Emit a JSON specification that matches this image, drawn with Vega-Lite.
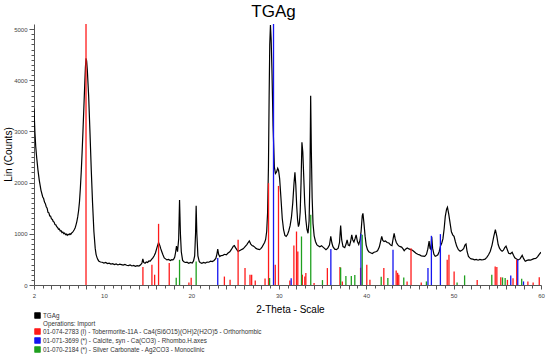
{
  "$schema": "https://vega.github.io/schema/vega-lite/v6.json",
  "width": 507,
  "height": 261,
  "autosize": {"type": "none"},
  "padding": {"left": 34, "top": 24, "right": 9, "bottom": 73},
  "background": "white",
  "title": {"text": "TGAg", "fontSize": 17, "font": "Liberation Sans", "fontWeight": "normal", "color": "black", "anchor": "middle", "offset": 3, "dx": -14},
  "config": {"view": {"stroke": null}, "font": "Liberation Sans"},
  "datasets": {
    "scan": [
      {"t":2.0,"c":3450},{"t":2.1,"c":3000},{"t":2.2,"c":2700},{"t":2.3,"c":2500},{"t":2.45,"c":2250},{"t":2.6,"c":2050},{"t":2.8,"c":1850},{"t":3.0,"c":1720},{"t":3.1,"c":1690},{"t":3.2,"c":1620},{"t":3.3,"c":1590},{"t":3.4,"c":1530},{"t":3.5,"c":1500},{"t":3.6,"c":1420},{"t":3.7,"c":1410},{"t":3.8,"c":1350},{"t":3.9,"c":1345},{"t":4.0,"c":1290},{"t":4.1,"c":1285},{"t":4.2,"c":1240},{"t":4.3,"c":1230},{"t":4.4,"c":1180},{"t":4.5,"c":1175},{"t":4.6,"c":1140},{"t":4.7,"c":1125},{"t":4.8,"c":1090},{"t":4.9,"c":1095},{"t":5.0,"c":1055},{"t":5.1,"c":1060},{"t":5.2,"c":1025},{"t":5.3,"c":1035},{"t":5.4,"c":1005},{"t":5.5,"c":1015},{"t":5.6,"c":985},{"t":5.7,"c":995},{"t":5.8,"c":970},{"t":5.9,"c":990},{"t":6.0,"c":980},{"t":6.1,"c":1000},{"t":6.2,"c":990},{"t":6.3,"c":1015},{"t":6.4,"c":1030},{"t":6.5,"c":1050},{"t":6.6,"c":1080},{"t":6.7,"c":1115},{"t":6.8,"c":1170},{"t":6.9,"c":1240},{"t":7.0,"c":1330},{"t":7.1,"c":1450},{"t":7.2,"c":1620},{"t":7.3,"c":1880},{"t":7.4,"c":2200},{"t":7.5,"c":2580},{"t":7.6,"c":3000},{"t":7.7,"c":3450},{"t":7.8,"c":3900},{"t":7.88,"c":4250},{"t":7.95,"c":4430},{"t":8.02,"c":4380},{"t":8.1,"c":4200},{"t":8.25,"c":3700},{"t":8.4,"c":3000},{"t":8.55,"c":2250},{"t":8.7,"c":1600},{"t":8.85,"c":1050},{"t":9.0,"c":720},{"t":9.1,"c":600},{"t":9.2,"c":540},{"t":9.3,"c":500},{"t":9.4,"c":470},{"t":9.6,"c":450},{"t":9.8,"c":445},{"t":10.0,"c":430},{"t":10.2,"c":440},{"t":10.4,"c":418},{"t":10.6,"c":428},{"t":10.8,"c":410},{"t":11.0,"c":418},{"t":11.2,"c":400},{"t":11.4,"c":412},{"t":11.6,"c":392},{"t":11.8,"c":408},{"t":12.0,"c":398},{"t":12.2,"c":388},{"t":12.4,"c":402},{"t":12.6,"c":385},{"t":12.8,"c":378},{"t":13.0,"c":392},{"t":13.2,"c":372},{"t":13.4,"c":382},{"t":13.6,"c":365},{"t":13.8,"c":378},{"t":14.0,"c":370},{"t":14.2,"c":395},{"t":14.35,"c":430},{"t":14.45,"c":510},{"t":14.55,"c":440},{"t":14.7,"c":425},{"t":14.85,"c":450},{"t":15.0,"c":440},{"t":15.15,"c":470},{"t":15.3,"c":465},{"t":15.45,"c":500},{"t":15.6,"c":530},{"t":15.75,"c":570},{"t":15.9,"c":630},{"t":16.0,"c":690},{"t":16.1,"c":750},{"t":16.25,"c":830},{"t":16.4,"c":770},{"t":16.5,"c":710},{"t":16.6,"c":660},{"t":16.75,"c":590},{"t":16.9,"c":530},{"t":17.05,"c":510},{"t":17.2,"c":490},{"t":17.4,"c":500},{"t":17.6,"c":478},{"t":17.75,"c":495},{"t":17.9,"c":490},{"t":18.0,"c":510},{"t":18.1,"c":545},{"t":18.2,"c":640},{"t":18.3,"c":760},{"t":18.42,"c":650},{"t":18.55,"c":900},{"t":18.65,"c":1660},{"t":18.75,"c":1000},{"t":18.85,"c":650},{"t":19.0,"c":480},{"t":19.15,"c":455},{"t":19.3,"c":440},{"t":19.5,"c":445},{"t":19.7,"c":425},{"t":19.9,"c":440},{"t":20.1,"c":430},{"t":20.25,"c":470},{"t":20.38,"c":570},{"t":20.48,"c":1000},{"t":20.55,"c":1550},{"t":20.63,"c":1000},{"t":20.75,"c":570},{"t":20.9,"c":460},{"t":21.0,"c":440},{"t":21.2,"c":425},{"t":21.4,"c":440},{"t":21.6,"c":430},{"t":21.8,"c":448},{"t":22.0,"c":445},{"t":22.2,"c":465},{"t":22.4,"c":458},{"t":22.6,"c":480},{"t":22.8,"c":520},{"t":22.92,"c":600},{"t":23.02,"c":700},{"t":23.12,"c":600},{"t":23.25,"c":555},{"t":23.4,"c":575},{"t":23.6,"c":580},{"t":23.8,"c":600},{"t":24.0,"c":590},{"t":24.2,"c":625},{"t":24.4,"c":650},{"t":24.6,"c":700},{"t":24.8,"c":760},{"t":24.92,"c":770},{"t":25.05,"c":730},{"t":25.2,"c":690},{"t":25.35,"c":655},{"t":25.5,"c":670},{"t":25.7,"c":690},{"t":25.9,"c":705},{"t":26.05,"c":730},{"t":26.2,"c":760},{"t":26.35,"c":790},{"t":26.5,"c":830},{"t":26.63,"c":860},{"t":26.8,"c":800},{"t":26.95,"c":770},{"t":27.1,"c":760},{"t":27.25,"c":740},{"t":27.4,"c":715},{"t":27.6,"c":700},{"t":27.8,"c":690},{"t":27.95,"c":710},{"t":28.1,"c":745},{"t":28.25,"c":790},{"t":28.38,"c":830},{"t":28.5,"c":890},{"t":28.62,"c":1050},{"t":28.72,"c":1400},{"t":28.82,"c":2300},{"t":28.9,"c":3700},{"t":28.97,"c":4700},{"t":29.05,"c":5080},{"t":29.13,"c":4800},{"t":29.22,"c":4200},{"t":29.35,"c":3100},{"t":29.5,"c":2300},{"t":29.62,"c":2180},{"t":29.75,"c":2210},{"t":29.88,"c":2280},{"t":29.98,"c":2240},{"t":30.1,"c":2080},{"t":30.25,"c":1700},{"t":30.4,"c":1300},{"t":30.55,"c":1080},{"t":30.7,"c":970},{"t":30.85,"c":950},{"t":31.0,"c":985},{"t":31.15,"c":1060},{"t":31.3,"c":1160},{"t":31.45,"c":1320},{"t":31.6,"c":1600},{"t":31.75,"c":2000},{"t":31.85,"c":2200},{"t":31.95,"c":1950},{"t":32.05,"c":1550},{"t":32.15,"c":1280},{"t":32.25,"c":1140},{"t":32.35,"c":1200},{"t":32.45,"c":1420},{"t":32.55,"c":2000},{"t":32.65,"c":2790},{"t":32.75,"c":2600},{"t":32.85,"c":2150},{"t":32.97,"c":1600},{"t":33.1,"c":1280},{"t":33.22,"c":1090},{"t":33.35,"c":1010},{"t":33.47,"c":1250},{"t":33.57,"c":2100},{"t":33.65,"c":3700},{"t":33.73,"c":2600},{"t":33.82,"c":1700},{"t":33.92,"c":1200},{"t":34.05,"c":960},{"t":34.2,"c":850},{"t":34.35,"c":790},{"t":34.5,"c":765},{"t":34.7,"c":745},{"t":34.9,"c":765},{"t":35.0,"c":750},{"t":35.2,"c":720},{"t":35.4,"c":690},{"t":35.6,"c":720},{"t":35.8,"c":780},{"t":35.95,"c":950},{"t":36.08,"c":820},{"t":36.2,"c":750},{"t":36.4,"c":700},{"t":36.6,"c":690},{"t":36.8,"c":720},{"t":36.95,"c":830},{"t":37.08,"c":1160},{"t":37.2,"c":880},{"t":37.35,"c":750},{"t":37.55,"c":730},{"t":37.7,"c":800},{"t":37.82,"c":880},{"t":37.95,"c":780},{"t":38.1,"c":770},{"t":38.22,"c":850},{"t":38.35,"c":980},{"t":38.47,"c":880},{"t":38.6,"c":840},{"t":38.72,"c":900},{"t":38.85,"c":980},{"t":39.0,"c":850},{"t":39.15,"c":790},{"t":39.3,"c":880},{"t":39.42,"c":1050},{"t":39.55,"c":1350},{"t":39.63,"c":1400},{"t":39.75,"c":1200},{"t":39.88,"c":950},{"t":40.0,"c":780},{"t":40.15,"c":690},{"t":40.3,"c":650},{"t":40.5,"c":630},{"t":40.7,"c":615},{"t":40.9,"c":640},{"t":41.1,"c":650},{"t":41.3,"c":670},{"t":41.5,"c":740},{"t":41.65,"c":850},{"t":41.78,"c":950},{"t":41.9,"c":870},{"t":42.05,"c":850},{"t":42.2,"c":860},{"t":42.4,"c":830},{"t":42.6,"c":820},{"t":42.8,"c":780},{"t":42.95,"c":770},{"t":43.08,"c":900},{"t":43.2,"c":1010},{"t":43.32,"c":900},{"t":43.45,"c":830},{"t":43.6,"c":790},{"t":43.75,"c":760},{"t":43.9,"c":750},{"t":44.05,"c":740},{"t":44.2,"c":710},{"t":44.35,"c":670},{"t":44.5,"c":700},{"t":44.7,"c":725},{"t":44.9,"c":705},{"t":45.1,"c":690},{"t":45.3,"c":680},{"t":45.5,"c":650},{"t":45.7,"c":620},{"t":45.9,"c":600},{"t":46.1,"c":590},{"t":46.3,"c":570},{"t":46.5,"c":565},{"t":46.7,"c":560},{"t":46.9,"c":600},{"t":47.05,"c":700},{"t":47.2,"c":860},{"t":47.3,"c":720},{"t":47.4,"c":700},{"t":47.5,"c":940},{"t":47.6,"c":720},{"t":47.75,"c":600},{"t":47.9,"c":560},{"t":48.05,"c":570},{"t":48.2,"c":590},{"t":48.35,"c":650},{"t":48.5,"c":760},{"t":48.65,"c":820},{"t":48.78,"c":900},{"t":48.92,"c":1100},{"t":49.05,"c":1340},{"t":49.2,"c":1480},{"t":49.3,"c":1520},{"t":49.45,"c":1380},{"t":49.6,"c":1210},{"t":49.75,"c":1040},{"t":49.9,"c":980},{"t":50.05,"c":950},{"t":50.2,"c":850},{"t":50.35,"c":760},{"t":50.55,"c":690},{"t":50.75,"c":660},{"t":50.95,"c":680},{"t":51.15,"c":710},{"t":51.3,"c":780},{"t":51.42,"c":800},{"t":51.55,"c":650},{"t":51.7,"c":560},{"t":51.85,"c":530},{"t":52.0,"c":510},{"t":52.2,"c":505},{"t":52.4,"c":490},{"t":52.6,"c":500},{"t":52.8,"c":485},{"t":53.0,"c":500},{"t":53.2,"c":490},{"t":53.4,"c":495},{"t":53.6,"c":505},{"t":53.8,"c":540},{"t":54.0,"c":590},{"t":54.2,"c":660},{"t":54.4,"c":780},{"t":54.6,"c":950},{"t":54.78,"c":1080},{"t":54.95,"c":950},{"t":55.1,"c":790},{"t":55.25,"c":720},{"t":55.4,"c":680},{"t":55.55,"c":660},{"t":55.7,"c":680},{"t":55.85,"c":730},{"t":56.0,"c":760},{"t":56.15,"c":690},{"t":56.3,"c":620},{"t":56.5,"c":610},{"t":56.7,"c":640},{"t":56.85,"c":580},{"t":57.0,"c":530},{"t":57.2,"c":510},{"t":57.4,"c":490},{"t":57.6,"c":510},{"t":57.85,"c":580},{"t":58.0,"c":520},{"t":58.2,"c":465},{"t":58.4,"c":480},{"t":58.6,"c":490},{"t":58.8,"c":485},{"t":59.0,"c":500},{"t":59.2,"c":515},{"t":59.4,"c":520},{"t":59.6,"c":550},{"t":59.8,"c":600},{"t":60.0,"c":640}
    ],
    "sticks": [
      {"p":"T","t":7.95,"i":5100},{"p":"T","t":14.46,"i":351},{"p":"T","t":15.49,"i":396},{"p":"T","t":15.8,"i":201},{"p":"T","t":16.25,"i":1195},{"p":"T","t":17.47,"i":429},{"p":"T","t":19.72,"i":50},{"p":"T","t":19.98,"i":140},{"p":"T","t":23.78,"i":165},{"p":"T","t":24.43,"i":103},{"p":"T","t":25.35,"i":883},{"p":"T","t":26.14,"i":331},{"p":"T","t":26.71,"i":201},{"p":"T","t":26.9,"i":201},{"p":"T","t":27.31,"i":90},{"p":"T","t":28.43,"i":125},{"p":"T","t":28.83,"i":1989},{"p":"T","t":29.6,"i":396},{"p":"T","t":29.97,"i":1936},{"p":"T","t":31.27,"i":90},{"p":"T","t":31.73,"i":772},{"p":"T","t":32.03,"i":1045},{"p":"T","t":32.18,"i":656},{"p":"T","t":32.7,"i":201},{"p":"T","t":32.98,"i":168},{"p":"T","t":33.1,"i":234},{"p":"T","t":34.04,"i":40},{"p":"T","t":35.56,"i":331},{"p":"T","t":37.0,"i":351},{"p":"T","t":37.27,"i":70},{"p":"T","t":39.36,"i":337},{"p":"T","t":40.07,"i":396},{"p":"T","t":40.43,"i":103},{"p":"T","t":42.02,"i":331},{"p":"T","t":43.43,"i":282},{"p":"T","t":43.6,"i":238},{"p":"T","t":43.73,"i":201},{"p":"T","t":44.68,"i":70},{"p":"T","t":45.13,"i":720},{"p":"T","t":46.3,"i":50},{"p":"T","t":49.27,"i":493},{"p":"T","t":49.47,"i":591},{"p":"T","t":50.06,"i":262},{"p":"T","t":52.7,"i":100},{"p":"T","t":54.76,"i":363},{"p":"T","t":54.95,"i":350},{"p":"T","t":55.4,"i":150},{"p":"T","t":56.16,"i":100},{"p":"T","t":56.8,"i":130},{"p":"T","t":57.22,"i":493},{"p":"T","t":58.5,"i":70},{"p":"T","t":59.1,"i":50},{"p":"T","t":59.8,"i":150},
      {"p":"C","t":23.02,"i":526},{"p":"C","t":29.4,"i":5100},{"p":"C","t":31.42,"i":130},{"p":"C","t":35.96,"i":705},{"p":"C","t":39.4,"i":998},{"p":"C","t":43.07,"i":688},{"p":"C","t":47.07,"i":331},{"p":"C","t":47.46,"i":961},{"p":"C","t":48.49,"i":994},{"p":"C","t":56.54,"i":188},{"p":"C","t":57.34,"i":493},{"p":"C","t":58.0,"i":70},
      {"p":"A","t":18.27,"i":142},{"p":"A","t":18.65,"i":493},{"p":"A","t":20.55,"i":460},{"p":"A","t":28.95,"i":136},{"p":"A","t":32.6,"i":948},{"p":"A","t":33.66,"i":1371},{"p":"A","t":35.0,"i":96},{"p":"A","t":37.08,"i":341},{"p":"A","t":37.68,"i":175},{"p":"A","t":38.3,"i":175},{"p":"A","t":38.7,"i":195},{"p":"A","t":39.55,"i":981},{"p":"A","t":41.72,"i":162},{"p":"A","t":42.48,"i":136},{"p":"A","t":44.3,"i":148},{"p":"A","t":46.89,"i":70},{"p":"A","t":50.4,"i":50},{"p":"A","t":51.26,"i":188},{"p":"A","t":54.37,"i":201},{"p":"A","t":55.6,"i":148},{"p":"A","t":55.9,"i":136},{"p":"A","t":57.79,"i":123}
    ]
  },
  "encoding": {
    "x": {
      "type": "quantitative",
      "scale": {"domain": [2, 60], "nice": false, "zero": false},
      "axis": {
        "title": "2-Theta - Scale",
        "titleFont": "Liberation Sans", "titleFontSize": 10, "titleFontWeight": "normal", "titleColor": "black", "titlePadding": 6, "titleX": 256, "titleAnchor": "middle",
        "values": [2,3,4,5,6,7,8,9,10,11,12,13,14,15,16,17,18,19,20,21,22,23,24,25,26,27,28,29,30,31,32,33,34,35,36,37,38,39,40,41,42,43,44,45,46,47,48,49,50,51,52,53,54,55,56,57,58,59,60],
        "labelExpr": "(datum.value == 2 || datum.value % 10 == 0) ? datum.label : ''",
        "labelFontSize": 6, "labelColor": "#444", "labelFont": "Liberation Sans", "labelPadding": 3, "labelFlush": false, "labelOverlap": false,
        "grid": false, "domainColor": "#555", "tickColor": "#555",
        "tickSize": {"condition": {"test": "datum.value % 2 == 0", "value": 4}, "value": 3}
      }
    },
    "y": {
      "type": "quantitative",
      "scale": {"domain": [0, 5100], "nice": false},
      "axis": {
        "title": "Lin (Counts)",
        "titleFont": "Liberation Sans", "titleFontSize": 10, "titleFontWeight": "normal", "titleColor": "black", "titleX": -21, "titleY": 130, "titleAnchor": "middle",
        "values": [0,100,200,300,400,500,600,700,800,900,1000,1100,1200,1300,1400,1500,1600,1700,1800,1900,2000,2100,2200,2300,2400,2500,2600,2700,2800,2900,3000,3100,3200,3300,3400,3500,3600,3700,3800,3900,4000,4100,4200,4300,4400,4500,4600,4700,4800,4900,5000],
        "labelExpr": "datum.value % 1000 == 0 ? datum.label : ''",
        "format": "d",
        "labelFontSize": 6, "labelColor": "#444", "labelFont": "Liberation Sans", "labelPadding": 2, "labelOverlap": false, "labelFlush": false,
        "grid": false, "domainColor": "#555", "tickColor": "#555",
        "tickSize": {"condition": {"test": "datum.value % 1000 == 0", "value": 5}, "value": 3}
      }
    }
  },
  "layer": [
    {
      "data": {"name": "scan"},
      "mark": {"type": "line", "strokeWidth": 1.2, "clip": true},
      "encoding": {
        "x": {"field": "t"},
        "y": {"field": "c"},
        "color": {"datum": "TGAg"}
      }
    },
    {
      "data": {"name": "sticks"},
      "mark": {"type": "rule", "strokeWidth": 1.3, "clip": true},
      "encoding": {
        "x": {"field": "t"},
        "y": {"field": "i"},
        "y2": {"datum": 0},
        "color": {
          "field": "p", "type": "nominal",
          "scale": {"domain": ["TGAg", "Operations: Import", "T", "C", "A"], "range": ["#000000", "transparent", "#ff1a1a", "#1414f0", "#1fa01f"]},
          "legend": {
            "title": null, "orient": "none", "legendX": 0, "legendY": 288, "direction": "vertical",
            "symbolType": "square", "symbolSize": 32, "symbolStrokeWidth": 0.8,
            "labelFontSize": 6.3, "labelFont": "Liberation Sans", "labelColor": "#333", "labelOffset": 2, "rowPadding": 0, "labelLimit": 500,
            "labelExpr": "datum.value == 'T' ? '01-074-2783 (I) - Tobermorite-11A - Ca4(Si6O15)(OH)2(H2O)5 - Orthorhombic' : datum.value == 'C' ? '01-071-3699 (*) - Calcite, syn - Ca(CO3) - Rhombo.H.axes' : datum.value == 'A' ? '01-070-2184 (*) - Silver Carbonate - Ag2CO3 - Monoclinic' : datum.value",
            "encode": {"symbols": {"update": {"fill": {"scale": "color", "field": "value"}, "stroke": {"value": "#555"}, "strokeOpacity": {"signal": "datum.value == 'Operations: Import' ? 0 : 1"}}}}
          }
        }
      }
    }
  ]
}
